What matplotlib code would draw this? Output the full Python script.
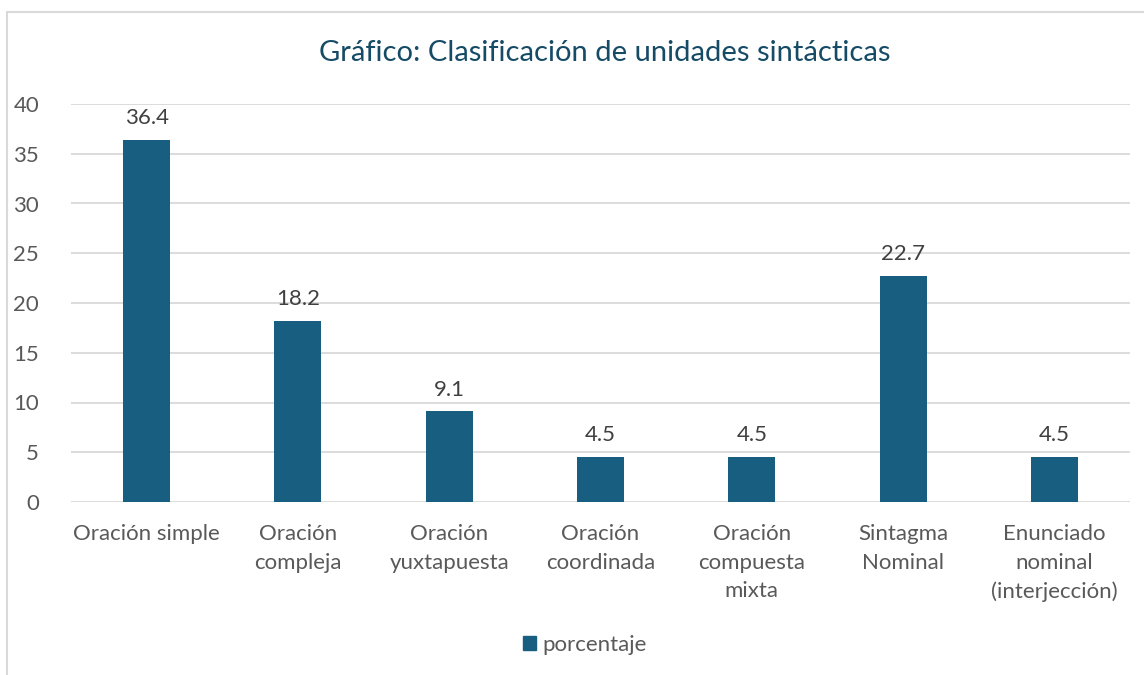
import matplotlib.pyplot as plt
from matplotlib.patches import Rectangle, Patch

categories = ["Oración simple", "Oración\ncompleja", "Oración\nyuxtapuesta", "Oración\ncoordinada",
              "Oración\ncompuesta\nmixta", "Sintagma\nNominal", "Enunciado\nnominal\n(interjección)"]
values = [36.4, 18.2, 9.1, 4.5, 4.5, 22.7, 4.5]
yticks = [0, 5, 10, 15, 20, 25, 30, 35, 40]

bar_color = "#185E80"
text_color = "#595959"

plt.rcParams["font.family"] = ["Lato", "DejaVu Sans"]

fig = plt.figure(figsize=(11.44, 6.75), dpi=100)
# chart border
fig.patches.append(Rectangle((7 / 1144, -0.1), 1.2, 1 - 12 / 675 + 0.1, transform=fig.transFigure,
                             fill=False, edgecolor="#D9D9D9", linewidth=1.5))

ax = fig.add_axes([71 / 1144, 1 - 502 / 675, (1130 - 71) / 1144, (502 - 104) / 675])
x = range(len(categories))
bars = ax.bar(x, values, width=0.31, color=bar_color, zorder=3, label="porcentaje")
for xi, v in zip(x, values):
    ax.text(xi, v + 1.2, f"{v}", ha="center", va="bottom", fontsize=16, color="#404040")

ax.set_xlim(-0.5, len(categories) - 0.5)
ax.set_ylim(0, 40)
ax.set_yticks(yticks)
ax.set_yticklabels([str(t) for t in yticks], fontsize=16, color=text_color)
ax.set_xticks(list(x))
ax.set_xticklabels(categories, fontsize=16, color=text_color, linespacing=1.52)
ax.tick_params(axis="both", length=0)
ax.tick_params(axis="x", pad=16)
ax.tick_params(axis="y", pad=23)
ax.yaxis.grid(True, color="#D9D9D9", linewidth=1.3, zorder=0)
for s in ax.spines.values():
    s.set_visible(False)

fig.text(605 / 1144, 1 - 53 / 675, "Gráfico: Clasificación de unidades sintácticas",
         ha="center", va="center", fontsize=21, color="#164B66")

fig.legend(handles=[Patch(color=bar_color, label="porcentaje")], loc="center",
           bbox_to_anchor=(585 / 1144, 1 - 645 / 675), frameon=False, fontsize=16,
           handlelength=0.6, handleheight=0.6, handletextpad=0.3, labelcolor=text_color)

plt.savefig("out.png", dpi=100)
